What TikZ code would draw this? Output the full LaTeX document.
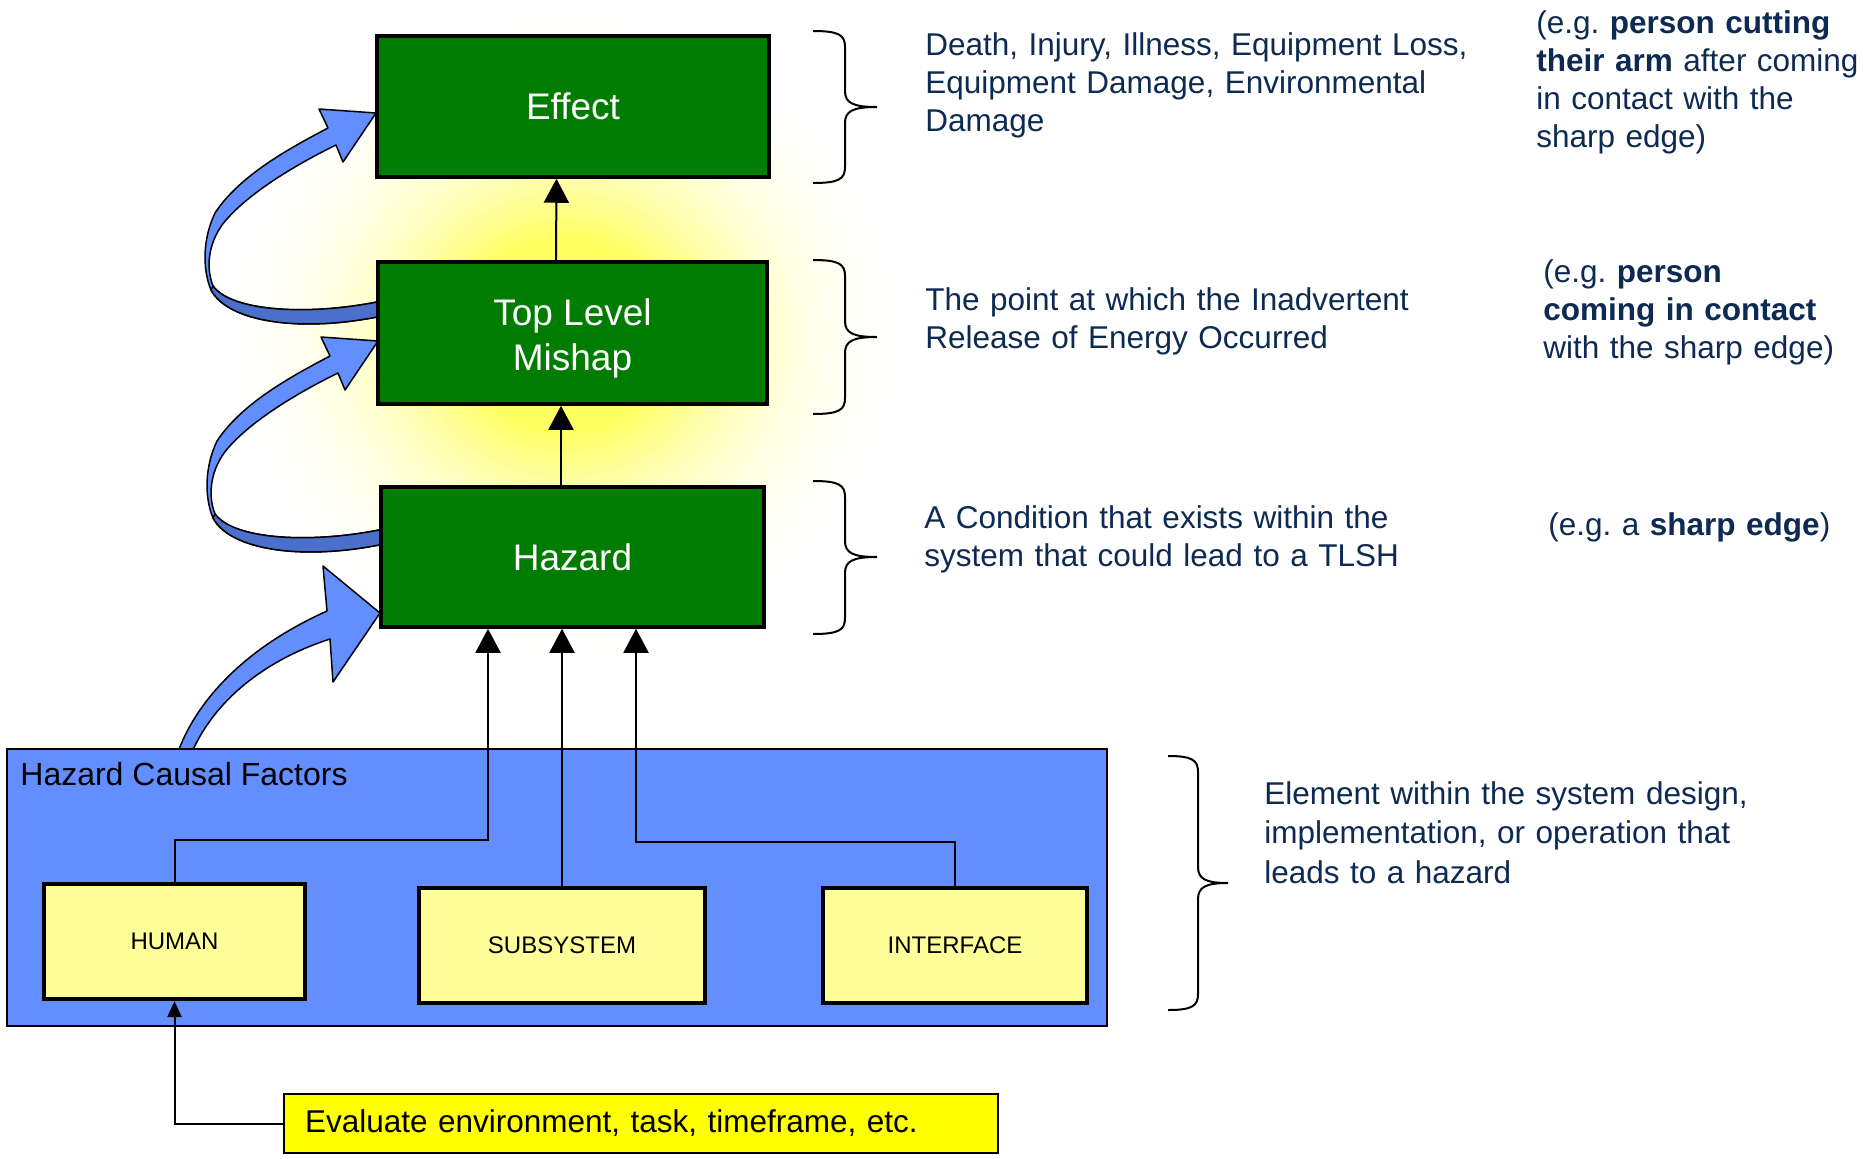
\documentclass[tikz,border=0pt]{standalone}
\usepackage{fontspec}
\setmainfont{Liberation Sans}
\usetikzlibrary{arrows.meta}
\definecolor{gboxc}{RGB}{0,124,0}
\definecolor{bboxc}{RGB}{98,142,255}
\definecolor{bdark}{RGB}{74,112,204}
\definecolor{lyel}{RGB}{255,255,153}
\definecolor{yel}{RGB}{255,255,0}
\definecolor{navy}{RGB}{13,42,82}
\definecolor{glowc}{RGB}{255,255,95}
\newcommand{\mybrace}[6]{\draw[bracel] (#1,#4) .. controls ({#2-6},#4) and (#2,{#4+4}) .. (#2,{#4+16}) -- (#2,{#5-16}) .. controls (#2,{#5-4}) and ({#2+8},#5) .. (#3,#5) .. controls ({#2+8},#5) and (#2,{#5+4}) .. (#2,{#5+16}) -- (#2,{#6-16}) .. controls (#2,{#6-4}) and ({#2-6},#6) .. (#1,#6);}
\begin{document}
\begin{tikzpicture}[x=0.5pt,y=-0.5pt,
  greenbox/.style={draw=black, line width=1.75pt, fill=gboxc, text=white, font=\fontsize{18.5pt}{22.5pt}\selectfont, align=center, inner sep=0pt},
  boxtext/.style={text=white, font=\fontsize{18.5pt}{22.5pt}\selectfont, align=center, inner sep=0pt},
  factorbox/.style={draw=black, line width=2pt, fill=lyel, font=\fontsize{12pt}{14pt}\selectfont, inner sep=0pt, minimum height=57.5pt},
  rtext/.style={text=navy, font=\fontsize{15.75pt}{19pt}\selectfont, align=left, inner sep=0pt, text width=300pt, anchor=base west},
  arr/.style={-{Triangle[width=12.5pt,length=12pt]}, line width=1pt},
  arrsmall/.style={-{Triangle[width=7pt,length=8pt]}, line width=1pt},
  bracel/.style={line width=1pt, draw=black},
  ribbon/.style={fill=bboxc, draw=black, line width=0.75pt, line join=round},
  ribbondark/.style={fill=bdark, draw=black, line width=0.75pt, line join=round}]
\useasboundingbox (0,0) rectangle (1863,1158);
\fill[white] (0,0) rectangle (1863,1158);
% glow: concentric ellipses fading from yellow to white
\foreach \k in {40,39,...,1}{
  \pgfmathsetmacro\s{\k/40}
  \pgfmathtruncatemacro\p{100*pow(min(1,(1-\s)/0.72),2.5)}
  \fill[glowc!\p!white] (565,335) ellipse [x radius={380*\s}, y radius={360*\s}];
}

% curved ribbon arrows
\foreach \dx/\dy in {0/0, 2/228}{
\begin{scope}[shift={(\dx,\dy)}]
\filldraw[ribbon] (382,301)
  .. controls (310,316) and (232,312) .. (213,286)
  .. controls (206,268) and (208,245) .. (222,225)
  .. controls (245,195) and (295,165) .. (336,145)
  -- (343,162) -- (376,113) -- (319,109) -- (328,128)
  .. controls (290,148) and (240,175) .. (215,213)
  .. controls (203,238) and (202,268) .. (211,290)
  .. controls (228,322) and (300,333) .. (382,316) -- cycle;
\filldraw[ribbondark] (382,301)
  .. controls (310,316) and (232,312) .. (213,286)
  -- (211,290)
  .. controls (228,322) and (300,333) .. (382,316) -- cycle;
\end{scope}}
\filldraw[ribbon] (178,752)
  .. controls (195,705) and (240,650) .. (327,611)
  -- (323,566) -- (380,613) -- (333,682) -- (330,639)
  .. controls (265,660) and (215,700) .. (192,752) -- cycle;

% causal factors container
\node[draw=black, line width=0.75pt, fill=bboxc, minimum width=550pt, minimum height=138.5pt, inner sep=0pt] (hcf) at (557,887.5) {};
\node[anchor=base west, inner sep=0pt, font=\fontsize{16pt}{19pt}\selectfont] (hcflabel) at (20,785) {Hazard Causal Factors};

% green boxes
\node[greenbox, minimum width=196pt, minimum height=70.5pt] (effect) at (573,106.5) {Effect};
\node[greenbox, minimum width=194.5pt, minimum height=71pt] (tlm) at (572.5,333) {};
\node[boxtext] (tlmtext) at ([yshift=-2.5pt]tlm.center) {Top Level\\Mishap};
\node[greenbox, minimum width=191.5pt, minimum height=70pt] (hazard) at (572.5,557) {Hazard};

% factor boxes
\node[factorbox, minimum width=130.5pt] (human) at (174.5,941.5) {HUMAN};
\node[factorbox, minimum width=143pt] (sub) at (562,945.5) {SUBSYSTEM};
\node[factorbox, minimum width=132pt] (int) at (955,945.5) {INTERFACE};

% evaluate box
\node[draw=black, line width=1.25pt, fill=yel, inner xsep=10.5pt, inner ysep=0pt, text width=336pt, align=left, minimum height=29.5pt, font=\fontsize{15.75pt}{19pt}\selectfont] (eval) at (641,1123.5) {Evaluate environment, task, timeframe, etc.};

% connectors
\draw[arr] ([xshift=-8.25pt]tlm.north) -- ([xshift=-8.25pt]effect.south);
\draw[arr] ([xshift=-5.75pt]hazard.north) -- ([xshift=-5.75pt]tlm.south);
\draw[arr] (human.north) -- ++(0,-42) -| ([xshift=-42.25pt]hazard.south);
\draw[arr] (sub.north) -- (sub.north |- hazard.south);
\draw[arr] (int.north) -- ++(0,-44) -| ([xshift=31.75pt]hazard.south);
\draw[arrsmall] (eval.west) -| (human.south);

% braces
\mybrace{813}{845}{877}{31}{107}{183}
\mybrace{813}{845}{877}{260}{337}{414}
\mybrace{813}{845}{877}{481}{557}{634}
\mybrace{1168}{1198}{1228}{756}{883}{1010}

% descriptions
\node[rtext] (d1) at (925,55) {Death, Injury, Illness, Equipment Loss,\\Equipment Damage, Environmental\\Damage};
\node[rtext] (d2) at (925,310) {The point at which the Inadvertent\\Release of Energy Occurred};
\node[rtext] (d3) at (924,528) {A Condition that exists within the\\system that could lead to a TLSH};
\node[rtext, font=\fontsize{15.75pt}{19.75pt}\selectfont] (d4) at (1264,804) {Element within the system design,\\implementation, or operation that\\leads to a hazard};
\node[rtext] (e1) at (1536,33) {(e.g.\ \textbf{person cutting}\\\textbf{their arm} after coming\\in contact with the\\sharp edge)};
\node[rtext] (e2) at (1543,282) {(e.g.\ \textbf{person}\\\textbf{coming in contact}\\with the sharp edge)};
\node[rtext] (e3) at (1548,535) {(e.g.\ a \textbf{sharp edge})};
\end{tikzpicture}
\end{document}
